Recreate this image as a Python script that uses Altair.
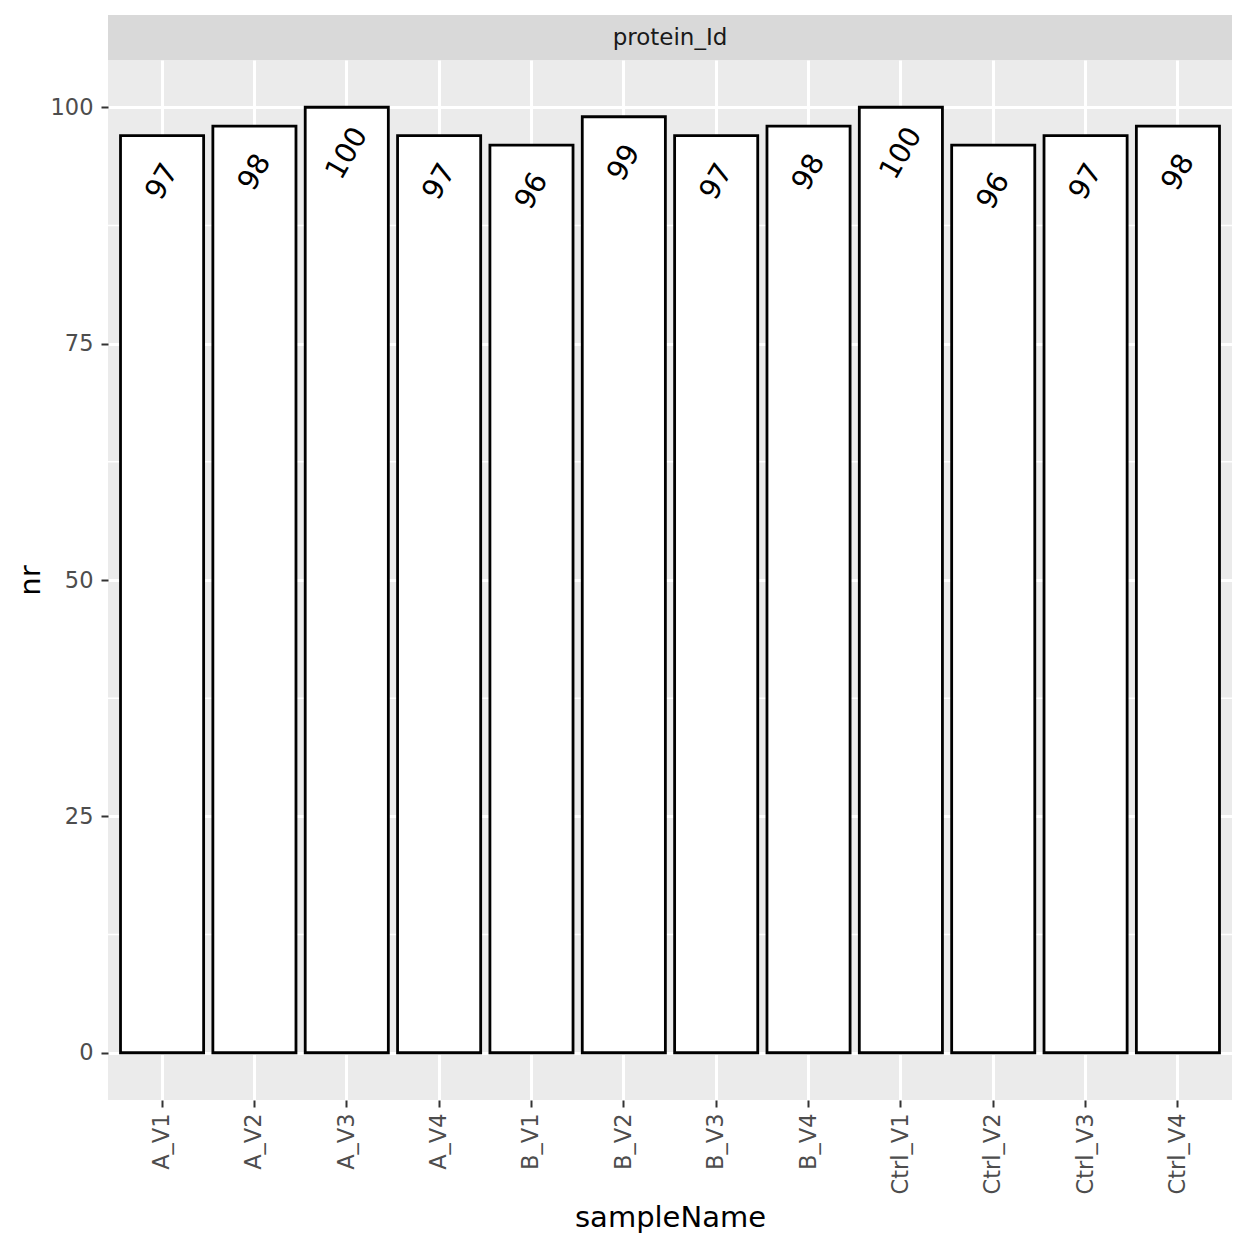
import altair as alt
import pandas as pd

samples = ["A_V1", "A_V2", "A_V3", "A_V4", "B_V1", "B_V2", "B_V3", "B_V4",
           "Ctrl_V1", "Ctrl_V2", "Ctrl_V3", "Ctrl_V4"]
counts = [97, 98, 100, 97, 96, 99, 97, 98, 100, 96, 97, 98]
major_ticks = [0, 25, 50, 75, 100]
minor_ticks = [12.5, 37.5, 62.5, 87.5]
strip_label = "protein_Id"

W, H = 1124, 1040
FONT = "DejaVu Sans"

df = pd.DataFrame({"sampleName": samples, "nr": counts})
minor_df = pd.DataFrame({"nr": minor_ticks})
strip_df = pd.DataFrame({"label": [strip_label]})

xscale = alt.Scale(domain=samples, paddingInner=0.1, paddingOuter=0.1355)
yscale = alt.Scale(domain=[-5, 105], nice=False, zero=False)

x_axis = alt.Axis(title="sampleName", labelAngle=270, labelAlign="right",
                  labelBaseline="middle", bandPosition=0.5, grid=True,
                  gridColor="white", gridWidth=3, domain=False,
                  tickColor="#333333", tickSize=7, tickWidth=2,
                  labelPadding=6, labelFont=FONT, labelFontSize=22.5,
                  labelColor="#4d4d4d", titleFont=FONT, titleFontSize=29,
                  titleFontWeight="normal", titleColor="black",
                  titleX=562, titleY=117, titleBaseline="middle",
                  titleAlign="center")
y_axis = alt.Axis(title="nr", values=major_ticks, grid=True,
                  gridColor="white", gridWidth=3, domain=False,
                  tickColor="#333333", tickSize=7, tickWidth=2,
                  labelPadding=8, labelFont=FONT, labelFontSize=22.5,
                  labelColor="#4d4d4d", titleFont=FONT, titleFontSize=29,
                  titleFontWeight="normal", titleColor="black",
                  titleX=-78, titleY=520, titleAngle=270,
                  titleBaseline="middle", titleAlign="center")

strip = alt.Chart(strip_df).mark_rect(fill="#d9d9d9").encode(
    x=alt.value(0), x2=alt.value(W), y=alt.value(-45), y2=alt.value(0))
strip_text = alt.Chart(strip_df).mark_text(
    font=FONT, fontSize=23, color="#1a1a1a", baseline="middle",
    align="center").encode(
    x=alt.value(W / 2), y=alt.value(-22), text="label:N")

minor = alt.Chart(minor_df).mark_rule(color="white", strokeWidth=1.5).encode(
    y=alt.Y("nr:Q", scale=yscale, axis=y_axis))

bars = alt.Chart(df).mark_bar(fill="white", stroke="black", strokeWidth=2.8).encode(
    x=alt.X("sampleName:N", scale=xscale, axis=x_axis, sort=samples),
    y=alt.Y("nr:Q", scale=yscale, axis=y_axis),
)

labels = alt.Chart(df).mark_text(
    font=FONT, fontSize=28.5, color="black", angle=300, align="center",
    baseline="middle", yOffset=46).encode(
    x=alt.X("sampleName:N", scale=xscale, sort=samples, axis=x_axis),
    y=alt.Y("nr:Q", scale=yscale, axis=y_axis),
    text="nr:Q",
)

chart = alt.layer(strip, strip_text, minor, bars, labels).properties(
    width=W, height=H,
    autosize=alt.AutoSizeParams(type="none"),
    padding={"left": 100, "top": 52, "right": 4, "bottom": 136},
    background="white",
).configure_view(fill="#EBEBEB", strokeWidth=0)

chart.save("out.html", embed_options={"renderer": "svg", "actions": False})
